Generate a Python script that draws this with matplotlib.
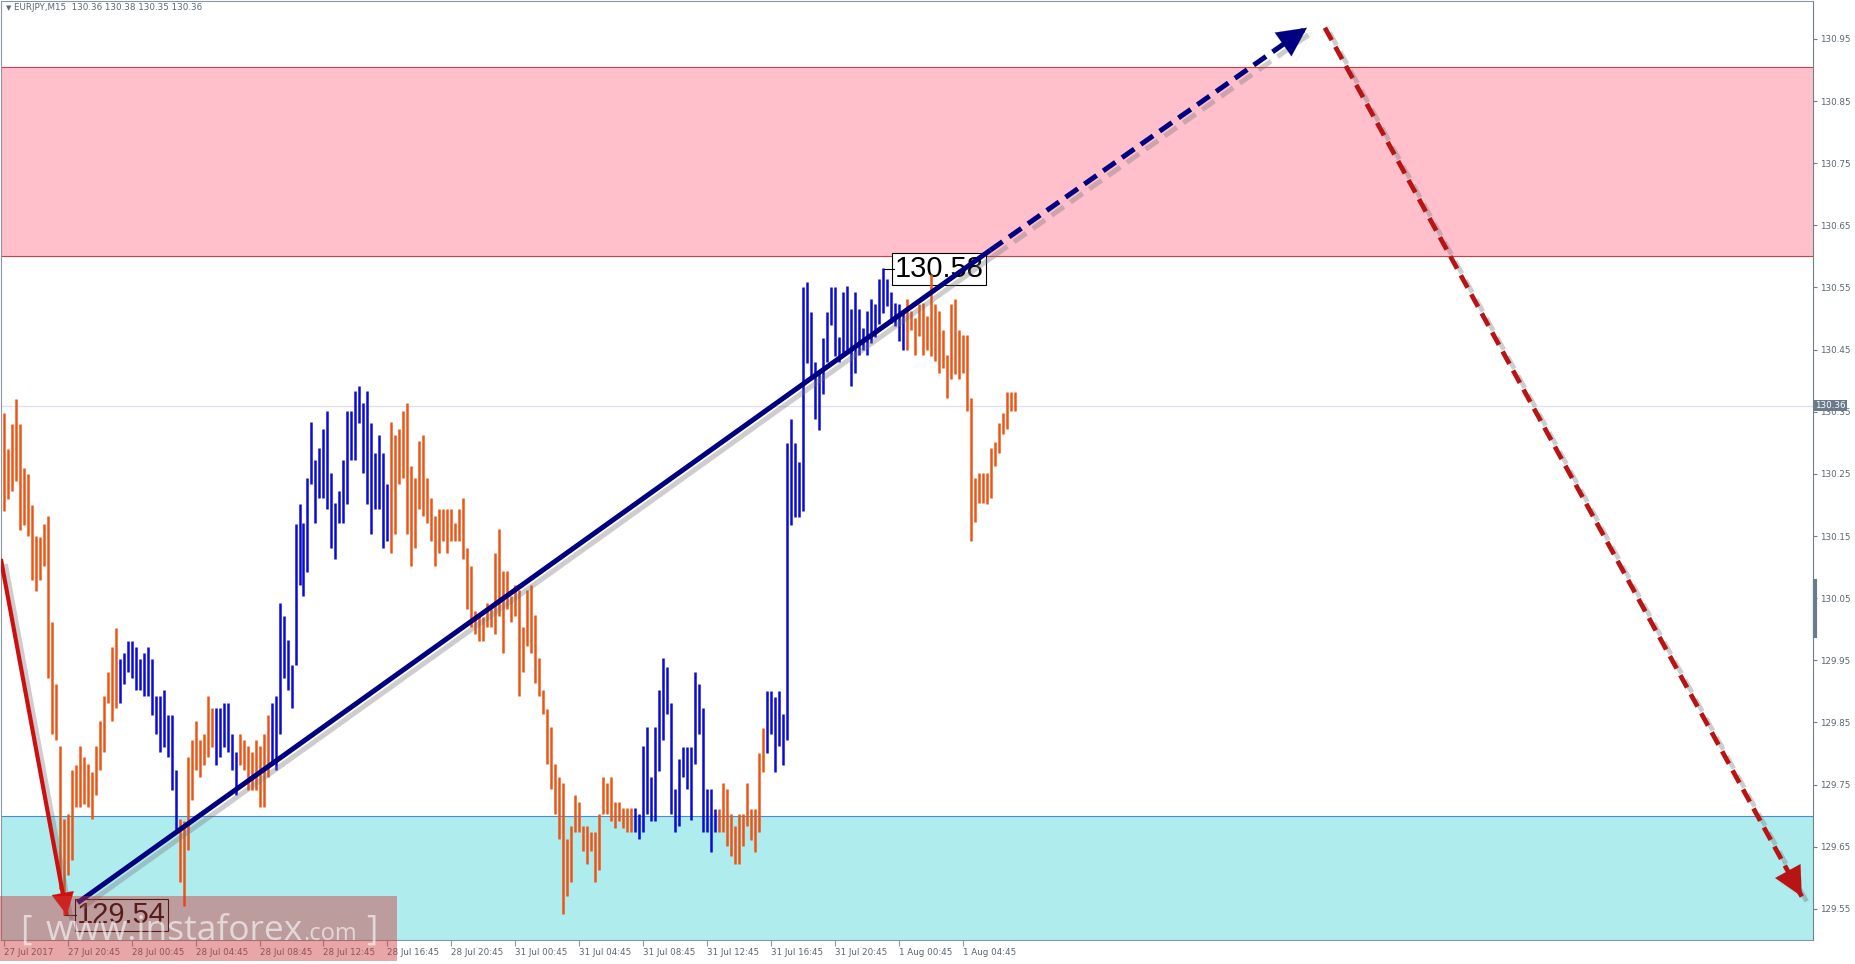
import matplotlib
matplotlib.use('Agg')
import matplotlib.pyplot as plt
import matplotlib.patheffects as pe
from matplotlib.patches import Rectangle
from matplotlib.transforms import blended_transform_factory

# EURJPY M15, one entry per bar (bar index 0 = 27 Jul 16:45)
highs = [
    130.348, 130.290, 130.330, 130.370, 130.330, 130.259, 130.250, 130.200, 130.150, 130.148,
    130.170, 130.182, 130.011, 129.912, 129.812, 129.694, 129.702, 129.774, 129.782, 129.812,
    129.795, 129.783, 129.771, 129.812, 129.852, 129.892, 129.932, 129.972, 130.002, 129.952,
    129.962, 129.981, 129.981, 129.971, 129.952, 129.962, 129.972, 129.952, 129.892, 129.892,
    129.902, 129.862, 129.862, 129.774, 129.694, 129.691, 129.794, 129.822, 129.852, 129.822,
    129.832, 129.892, 129.874, 129.874, 129.874, 129.882, 129.882, 129.832, 129.802, 129.832,
    129.822, 129.812, 129.802, 129.822, 129.812, 129.832, 129.862, 129.882, 129.892, 130.042,
    130.022, 129.982, 129.942, 130.170, 130.202, 130.171, 130.244, 130.333, 130.273, 130.292,
    130.323, 130.352, 130.252, 130.204, 130.222, 130.273, 130.352, 130.352, 130.383, 130.392,
    130.364, 130.383, 130.332, 130.284, 130.312, 130.284, 130.233, 130.333, 130.312, 130.323,
    130.352, 130.364, 130.263, 130.244, 130.303, 130.312, 130.244, 130.212, 130.182, 130.193,
    130.193, 130.193, 130.193, 130.171, 130.193, 130.212, 130.131, 130.102, 130.030, 130.021,
    130.020, 130.043, 130.032, 130.123, 130.162, 130.094, 130.094, 130.054, 130.072, 130.064,
    130.003, 130.064, 130.072, 130.023, 129.953, 129.902, 129.872, 129.842, 129.783, 129.762,
    129.752, 129.662, 129.684, 129.733, 129.722, 129.684, 129.684, 129.673, 129.673, 129.703,
    129.762, 129.752, 129.762, 129.722, 129.722, 129.712, 129.712, 129.712, 129.712, 129.703,
    129.812, 129.842, 129.762, 129.842, 129.902, 129.953, 129.940, 129.882, 129.743, 129.792,
    129.811, 129.811, 129.811, 129.931, 129.912, 129.873, 129.743, 129.743, 129.711, 129.711,
    129.752, 129.743, 129.702, 129.683, 129.702, 129.702, 129.752, 129.711, 129.711, 129.801,
    129.841, 129.901, 129.901, 129.891, 129.901, 129.863, 130.300, 130.339, 130.300, 130.269,
    130.550, 130.559, 130.510, 130.430, 130.414, 130.469, 130.510, 130.550, 130.550, 130.470,
    130.542, 130.553, 130.515, 130.542, 130.515, 130.485, 130.512, 130.532, 130.523, 130.563,
    130.582, 130.563, 130.542, 130.525, 130.523, 130.509, 130.532, 130.512, 130.501, 130.523,
    130.525, 130.504, 130.571, 130.523, 130.512, 130.482, 130.442, 130.523, 130.532, 130.482,
    130.474, 130.473, 130.372, 130.244, 130.252, 130.252, 130.252, 130.292, 130.301, 130.332,
    130.348, 130.382, 130.382, 130.382,
]
lows = [
    130.190, 130.210, 130.222, 130.239, 130.160, 130.167, 130.150, 130.079, 130.062, 130.079,
    130.102, 129.922, 129.832, 129.822, 129.582, 129.540, 129.605, 129.628, 129.714, 129.714,
    129.719, 129.714, 129.694, 129.734, 129.774, 129.802, 129.882, 129.852, 129.874, 129.882,
    129.912, 129.932, 129.922, 129.902, 129.902, 129.893, 129.893, 129.862, 129.832, 129.802,
    129.811, 129.794, 129.742, 129.674, 129.594, 129.554, 129.645, 129.725, 129.774, 129.762,
    129.782, 129.794, 129.811, 129.782, 129.794, 129.811, 129.802, 129.774, 129.734, 129.782,
    129.774, 129.742, 129.742, 129.742, 129.714, 129.714, 129.762, 129.782, 129.774, 129.832,
    129.922, 129.902, 129.874, 129.942, 130.071, 130.054, 130.092, 130.233, 130.171, 130.212,
    130.212, 130.193, 130.131, 130.113, 130.171, 130.171, 130.201, 130.273, 130.273, 130.332,
    130.252, 130.201, 130.153, 130.193, 130.193, 130.131, 130.142, 130.123, 130.153, 130.233,
    130.244, 130.153, 130.102, 130.131, 130.193, 130.182, 130.171, 130.142, 130.102, 130.123,
    130.142, 130.123, 130.142, 130.142, 130.142, 130.113, 130.032, 130.003, 129.992, 129.981,
    129.981, 130.003, 130.003, 129.992, 130.021, 129.962, 130.032, 130.012, 130.021, 129.892,
    129.931, 129.973, 129.962, 129.913, 129.892, 129.863, 129.783, 129.743, 129.703, 129.662,
    129.542, 129.571, 129.593, 129.673, 129.673, 129.644, 129.622, 129.644, 129.593, 129.612,
    129.703, 129.703, 129.692, 129.681, 129.692, 129.681, 129.673, 129.673, 129.673, 129.662,
    129.673, 129.703, 129.692, 129.692, 129.772, 129.822, 129.863, 129.702, 129.673, 129.683,
    129.762, 129.743, 129.693, 129.784, 129.831, 129.673, 129.673, 129.641, 129.673, 129.673,
    129.673, 129.651, 129.635, 129.623, 129.623, 129.651, 129.683, 129.661, 129.641, 129.673,
    129.771, 129.801, 129.831, 129.771, 129.812, 129.781, 129.822, 130.168, 130.181, 130.181,
    130.191, 130.428, 130.407, 130.339, 130.320, 130.379, 130.430, 130.490, 130.439, 130.430,
    130.440, 130.450, 130.391, 130.413, 130.442, 130.450, 130.442, 130.461, 130.471, 130.492,
    130.509, 130.521, 130.493, 130.488, 130.464, 130.450, 130.450, 130.482, 130.441, 130.472,
    130.441, 130.450, 130.440, 130.431, 130.413, 130.421, 130.372, 130.402, 130.410, 130.402,
    130.413, 130.351, 130.142, 130.172, 130.204, 130.204, 130.201, 130.212, 130.263, 130.283,
    130.314, 130.323, 130.351, 130.351,
]
# wave colouring: runs of (direction, number of bars)
wave_runs = [('d', 29), ('u', 15), ('d', 9), ('u', 6), ('d', 8), ('u', 30),
             ('d', 61), ('u', 21), ('d', 12), ('u', 35), ('d', 28)]

tick_bars = list(range(0, 241, 16))
tick_labels = ['27 Jul 2017', '27 Jul 20:45', '28 Jul 00:45', '28 Jul 04:45', '28 Jul 08:45',
               '28 Jul 12:45', '28 Jul 16:45', '28 Jul 20:45', '31 Jul 00:45', '31 Jul 04:45',
               '31 Jul 08:45', '31 Jul 12:45', '31 Jul 16:45', '31 Jul 20:45', '1 Aug 00:45',
               '1 Aug 04:45']
price_ticks = [129.55, 129.65, 129.75, 129.85, 129.95, 130.05, 130.15, 130.25,
               130.35, 130.45, 130.55, 130.65, 130.75, 130.85, 130.95]

sell_zone = (130.60, 130.905)
buy_zone = (129.50, 129.70)
last_price = 130.36
high_mark = (220, 130.58)
low_mark = (15, 129.54)

# wave lines: (bar, price) start -> end
red_in = [(-0.7, 130.113), (15.8, 129.54)]
navy_solid = [(18.5, 129.56), (246.8, 130.61)]
navy_dash = [(246.8, 130.61), (326.0, 130.968)]
red_dash = [(330.5, 130.968), (449.8, 129.57)]

ORANGE = '#ee5514'
BLUE = '#0a0ad8'
NAVY = '#000080'

fig = plt.figure(figsize=(18.55, 9.64), dpi=100)
ax = fig.add_axes([1 / 1855, 24 / 964, 1812 / 1855, 939 / 964])
ax.set_xlim(-0.67, 452.6)
ax.set_ylim(129.50, 131.011)

ax.axhspan(*sell_zone, color='#ffc0cb', zorder=0.5, lw=0)
ax.axhline(sell_zone[0], color='#d04040', lw=0.8, zorder=0.6)
ax.axhline(sell_zone[1], color='#d04040', lw=0.8, zorder=0.6)
ax.axhspan(*buy_zone, color='#afecee', zorder=0.5, lw=0)
ax.axhline(buy_zone[1], color='#4a8ad0', lw=0.8, zorder=0.6)
ax.axhline(last_price, color='#dcdff0', lw=0.9, zorder=0.7)

colors = []
for d, n in wave_runs:
    colors += [ORANGE if d == 'd' else BLUE] * n
ax.vlines(range(len(highs)), lows, highs, colors=colors, lw=1.8, zorder=3)

shadow = [pe.SimpleLineShadow(offset=(3.5, -3.5), shadow_color='#707070', alpha=0.35),
          pe.Normal()]


def wave(seg, color, lw, dashed=False, head=True, ms=48):
    (x0, y0), (x1, y1) = seg
    ls = (0, (3, 1.6)) if dashed else '-'
    ax.plot([x0, x1], [y0, y1], color=color, lw=lw, ls=ls, solid_capstyle='butt',
            dash_capstyle='butt', zorder=5, path_effects=shadow)
    if head:
        bx, by = x1 - 0.04 * (x1 - x0), y1 - 0.04 * (y1 - y0)
        ann = ax.annotate('', xy=(x1, y1), xytext=(bx, by), zorder=6, annotation_clip=False,
                          arrowprops=dict(arrowstyle='-|>', color=color, lw=0.1,
                                          mutation_scale=ms, shrinkA=0, shrinkB=0))
        ann.arrow_patch.set_path_effects(shadow)


wave(red_in, '#cc1010', 3.0, ms=40)
wave(navy_solid, NAVY, 3.6, head=False)
wave(navy_dash, NAVY, 3.6, dashed=True, ms=52)
wave(red_dash, '#b81414', 3.4, dashed=True, ms=52)

# extreme labels
ax.plot([high_mark[0], high_mark[0] + 2.6], [high_mark[1]] * 2, color='black', lw=0.8, zorder=2.6)
ax.text(high_mark[0] + 2.8, high_mark[1], '130.58', fontsize=21, family='Liberation Sans',
        ha='left', va='center', zorder=2.5,
        bbox=dict(boxstyle='square,pad=0.08', fc='white', ec='black', lw=0.8))
ax.plot([low_mark[0], low_mark[0] + 3], [low_mark[1]] * 2, color='black', lw=0.8, zorder=2.6)
ax.text(low_mark[0] + 3.3, low_mark[1], '129.54', fontsize=21, family='Liberation Sans',
        ha='left', va='center', zorder=2.5,
        bbox=dict(boxstyle='square,pad=0.08', fc='none', ec='black', lw=0.8))

# axes styling
for s in ax.spines.values():
    s.set_color('#8a96a2')
    s.set_linewidth(0.8)
ax.spines['right'].set_color('#6e7f8e')
ax.yaxis.tick_right()
ax.set_yticks(price_ticks)
ax.set_yticklabels([f'{p:.2f}' for p in price_ticks])
ax.tick_params(axis='y', length=3, width=0.8, color='#6e7f8e', labelcolor='#5a6670',
               labelsize=6.3, pad=2)
ax.set_xticks(tick_bars)
ax.set_xticklabels(tick_labels)
ax.tick_params(axis='x', length=4, width=0.8, color='#8a96a2', labelcolor='#5a6670',
               labelsize=6.3, pad=1.5)
for lbl in ax.get_xticklabels():
    lbl.set_ha('left')

tr = blended_transform_factory(ax.transAxes, ax.transData)
ax.plot([1.001, 1.001], [130.077, 129.989], color='#6b7b8b', lw=3, transform=tr, clip_on=False)
ax.text(1.0012, last_price, f'{last_price:.2f}', transform=tr, fontsize=6.3, color='white',
        ha='left', va='center', zorder=7,
        bbox=dict(boxstyle='square,pad=0.15', fc='#6b7b8b', ec='none'))

fig.text(6 / 1855, 1 - 8 / 964, '\u25bc', fontsize=5, color='#606a74', va='center')
fig.text(14 / 1855, 1 - 8 / 964, 'EURJPY,M15  130.36 130.38 130.35 130.36', fontsize=6.3,
         color='#5a6670', va='center')

# watermark
fig.add_artist(Rectangle((0, 3 / 964), 397 / 1855, 65 / 964, transform=fig.transFigure,
                         fc='#cc3b3b', alpha=0.45, ec='none', zorder=10))
wm = dict(color='white', alpha=0.6, va='baseline', family='Open Sans', zorder=11)
fig.text(20 / 1855, 24 / 964, '[', fontsize=25, **wm)
fig.text(46 / 1855, 24 / 964, 'www.instaforex', fontsize=25.5, **wm)
fig.text(303 / 1855, 24 / 964, '.com', fontsize=17, **wm)
fig.text(366 / 1855, 24 / 964, ']', fontsize=25, **wm)

fig.savefig('out.png', dpi=100)
